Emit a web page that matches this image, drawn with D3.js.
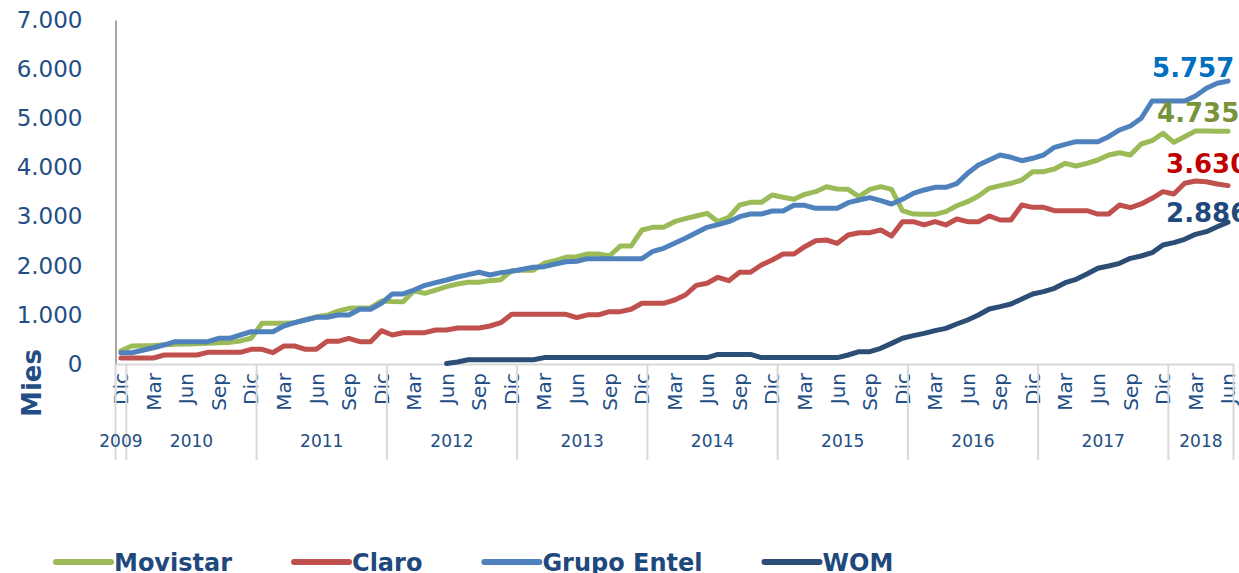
<!DOCTYPE html>
<html>
<head>
<meta charset="utf-8">
<script src="https://cdn.jsdelivr.net/npm/d3@7"></script>
<style>
  body { margin: 0; background: #fff; }
  svg { display: block; font-family: "DejaVu Sans", Verdana, sans-serif; }
</style>
</head>
<body>
<div id="chart"></div>
<script>
// months shown on the axis: Dic 2009 .. Jun 2018
const monthNames = ['Ene', 'Feb', 'Mar', 'Abr', 'May', 'Jun', 'Jul', 'Ago', 'Sep', 'Oct', 'Nov', 'Dic']
const years = [2009, 2010, 2011, 2012, 2013, 2014, 2015, 2016, 2017, 2018]
const firstMonth = { year: 2009, month: 11 }
const lastMonth = { year: 2018, month: 5 }
const tickMonths = ['Mar', 'Jun', 'Sep', 'Dic']
const yTicks = [0, 1000, 2000, 3000, 4000, 5000, 6000, 7000]

const categories = []
years.forEach(yr => {
  monthNames.forEach((m, mi) => {
    if (yr === firstMonth.year && mi < firstMonth.month) return
    if (yr === lastMonth.year && mi > lastMonth.month) return
    categories.push({ year: yr, month: m })
  })
})

// thousands of lines, monthly
const movistar = [
  270, 365, 370, 375, 390, 400, 405, 410, 420, 434, 440, 470, 523,
  828, 828, 828, 840, 900, 960, 990, 1075, 1133, 1140, 1140, 1280,
  1270, 1268, 1490, 1438, 1505, 1574, 1628, 1662, 1662, 1696, 1716, 1900,
  1910, 1910, 2050, 2103, 2171, 2185, 2238, 2238, 2198, 2400, 2400, 2727,
  2781, 2781, 2896, 2957, 3012, 3066, 2896, 2985, 3236, 3290, 3290, 3439,
  3392, 3351, 3453, 3507, 3608, 3561, 3554, 3405, 3554, 3608, 3554, 3120,
  3052, 3046, 3046, 3100, 3220, 3303, 3419, 3575, 3629, 3677, 3744, 3914,
  3914, 3968, 4084, 4029, 4084, 4151, 4253, 4300, 4253, 4477, 4544, 4695,
  4511, 4626, 4741, 4741, 4735, 4735
]
const claro = [
  122, 122, 122, 122, 183, 183, 183, 183, 238, 238, 238, 238, 298,
  298, 230, 366, 366, 298, 298, 461, 461, 522, 454, 454, 678,
  590, 637, 637, 637, 692, 692, 733, 733, 733, 773, 841, 1011,
  1011, 1011, 1011, 1011, 1011, 943, 1000, 1000, 1065, 1065, 1113, 1235,
  1235, 1235, 1302, 1404, 1600, 1642, 1764, 1696, 1866, 1866, 2015, 2116,
  2238, 2238, 2387, 2509, 2523, 2456, 2625, 2672, 2672, 2727, 2605, 2896,
  2896, 2829, 2896, 2829, 2950, 2896, 2896, 3012, 2930, 2930, 3236, 3188,
  3188, 3120, 3120, 3120, 3120, 3052, 3052, 3236, 3181, 3256, 3372, 3507,
  3460, 3677, 3724, 3710, 3663, 3630
]
const grupoEntel = [
  230, 230, 280, 330, 390, 454, 454, 454, 454, 523, 523, 590, 658,
  658, 658, 773, 841, 895, 950, 950, 997, 997, 1113, 1113, 1235,
  1425, 1425, 1506, 1601, 1655, 1709, 1770, 1818, 1866, 1811, 1859, 1886,
  1927, 1968, 1981, 2035, 2082, 2090, 2143, 2143, 2143, 2143, 2143, 2143,
  2293, 2354, 2456, 2558, 2672, 2781, 2835, 2896, 2998, 3052, 3052, 3113,
  3113, 3229, 3229, 3168, 3168, 3168, 3283, 3337, 3385, 3324, 3256, 3351,
  3473, 3541, 3595, 3595, 3670, 3880, 4050, 4151, 4253, 4206, 4137, 4186,
  4253, 4409, 4470, 4524, 4524, 4524, 4626, 4762, 4843, 5000, 5352, 5352,
  5352, 5352, 5454, 5610, 5712, 5757
]
const wom = [
  null, null, null, null, null, null, null, null, null, null, null, null, null,
  null, null, null, null, null, null, null, null, null, null, null, null,
  null, null, null, null, null, 10, 40, 85, 85, 85, 85, 85,
  85, 85, 130, 130, 130, 130, 130, 130, 130, 130, 130, 130,
  130, 130, 130, 130, 130, 130, 195, 195, 195, 195, 130, 130,
  130, 130, 130, 130, 130, 130, 183, 251, 251, 319, 420, 523,
  577, 624, 678, 726, 814, 895, 997, 1119, 1167, 1221, 1323, 1425,
  1472, 1540, 1655, 1723, 1831, 1947, 1994, 2049, 2150, 2198, 2265, 2422,
  2469, 2537, 2639, 2693, 2794, 2886
]

const seriesNames = ['Movistar', 'Claro', 'Grupo Entel', 'WOM']
const seriesValues = [movistar, claro, grupoEntel, wom]
const lineColors = ['#9bbb59', '#c0504d', '#4f81bd', '#2c4d76']
const labelColors = ['#77933c', '#c00000', '#0070c0', '#1f497d']
// end label placement relative to last point
const labelOffsets = [[-71, -9], [-62, -13], [-76, -4], [-62, 0]]

const textColor = '#234e85'
const width = 1239, height = 573
const plotLeft = 115.5, plotRight = 1233.5, plotTop = 20, plotBottom = 364

const svg = d3.select('#chart').append('svg')
    .attr('width', width)
    .attr('height', height)

const x = d3.scaleBand()
    .domain(d3.range(categories.length))
    .range([plotLeft, plotRight])
    .padding(0)
const xc = i => x(i) + x.bandwidth() / 2

const y = d3.scaleLinear()
    .domain([0, 7000])
    .range([plotBottom, plotTop])

const locale = d3.formatLocale({ decimal: ',', thousands: '.', grouping: [3], currency: ['$', ''] })
const fmt = locale.format(',.0f')

// y axis
const yAxis = svg.append('g')
    .attr('transform', 'translate(' + plotLeft + ',0)')
    .call(d3.axisLeft(y).tickValues(yTicks).tickSize(0).tickSizeOuter(0).tickPadding(33).tickFormat(fmt))
yAxis.select('.domain').attr('stroke', '#a6a6a6').attr('stroke-width', 2)
yAxis.selectAll('text')
    .attr('fill', textColor)
    .style('font-size', '23px')
    .style('font-family', '"DejaVu Sans", Verdana, sans-serif')

svg.append('text')
    .attr('transform', 'translate(41,383) rotate(-90)')
    .attr('text-anchor', 'middle')
    .attr('fill', textColor)
    .style('font-size', '26px')
    .style('font-weight', 'bold')
    .text('Mies')

// x axis with month ticks
const tickIdx = d3.range(categories.length).filter(i => tickMonths.includes(categories[i].month))
const xAxis = svg.append('g')
    .attr('transform', 'translate(0,' + plotBottom + ')')
    .call(d3.axisBottom(x).tickValues(tickIdx).tickSize(0).tickSizeOuter(0).tickFormat(i => categories[i].month))
xAxis.select('.domain').attr('stroke', '#d9d9d9').attr('stroke-width', 2)
xAxis.selectAll('text')
    .attr('transform', 'rotate(-90)')
    .attr('x', -9)
    .attr('y', 0)
    .attr('dy', '0.36em')
    .attr('text-anchor', 'end')
    .attr('fill', textColor)
    .style('font-size', '20px')
    .style('font-family', '"DejaVu Sans", Verdana, sans-serif')

// year groups
const yearGroups = years.map(yr => {
  const idx = d3.range(categories.length).filter(i => categories[i].year === yr)
  return { year: yr, start: x(idx[0]), end: x(idx[idx.length - 1]) + x.bandwidth() }
})
const bounds = [plotLeft].concat(yearGroups.map(g => g.end))

svg.append('g').selectAll('line')
  .data(bounds)
  .enter()
    .append('line')
    .attr('x1', d => d).attr('x2', d => d)
    .attr('y1', plotBottom).attr('y2', 460)
    .attr('stroke', '#d9d9d9')
    .attr('stroke-width', 2)

svg.append('g').selectAll('text')
  .data(yearGroups)
  .enter()
    .append('text')
    .attr('x', d => (d.start + d.end) / 2)
    .attr('y', 447)
    .attr('text-anchor', 'middle')
    .attr('fill', textColor)
    .style('font-size', '17px')
    .text(d => d.year)

// lines
const line = d3.line()
    .defined(d => d != null)
    .x((d, i) => xc(i))
    .y(d => y(d))

svg.append('g').selectAll('path')
  .data(seriesValues)
  .enter()
    .append('path')
    .attr('fill', 'none')
    .attr('stroke', (_, i) => lineColors[i])
    .attr('stroke-width', 5)
    .attr('stroke-linejoin', 'round')
    .attr('stroke-linecap', 'round')
    .attr('d', d => line(d))

// end labels
const lastI = categories.length - 1
svg.append('g').selectAll('text')
  .data(seriesValues)
  .enter()
    .append('text')
    .attr('x', (_, i) => xc(lastI) + labelOffsets[i][0])
    .attr('y', (d, i) => y(d[lastI]) + labelOffsets[i][1])
    .attr('fill', (_, i) => labelColors[i])
    .style('font-size', '26px')
    .style('font-weight', 'bold')
    .text(d => fmt(d[lastI]))

// legend
const legend = svg.append('g')
let lx = 56
seriesNames.forEach((name, i) => {
  legend.append('line')
      .attr('x1', lx).attr('x2', lx + 55)
      .attr('y1', 562).attr('y2', 562)
      .attr('stroke', lineColors[i])
      .attr('stroke-width', 6)
      .attr('stroke-linecap', 'round')
  const t = legend.append('text')
      .attr('x', lx + 58)
      .attr('y', 571)
      .attr('fill', '#1f497d')
      .style('font-size', '24px')
      .style('font-weight', 'bold')
      .text(name)
  lx += 58 + t.node().getComputedTextLength() + 62
})
</script>
</body>
</html>
